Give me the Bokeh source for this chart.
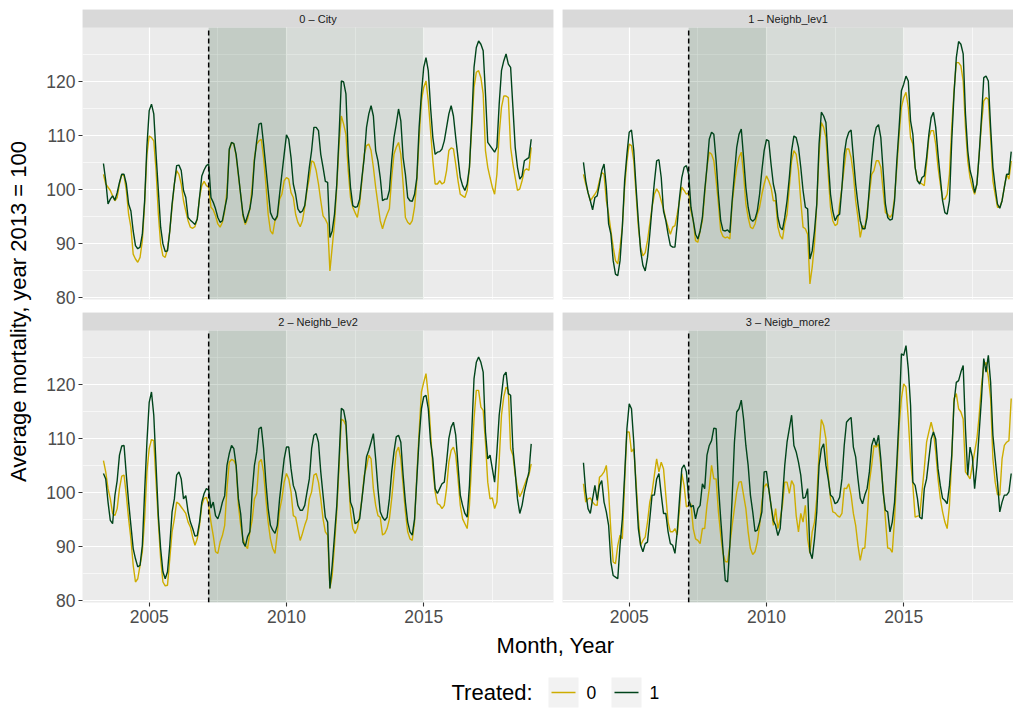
import numpy as np
import pandas as pd
from bokeh.plotting import figure
from bokeh.layouts import row, column
from bokeh.models import Range1d, FixedTicker
from bokeh.core.properties import value
from bokeh.embed import file_html
from bokeh.resources import INLINE

FONT = "Liberation Sans"

# ---------------- data ----------------
START_MONTH = "2003-05-01"
N_MONTHS = 188

panel_labels = ["0 \u2013 City", "1 \u2013 Neighb_lev1", "2 \u2013 Neighb_lev2", "3 \u2013 Neigb_more2"]
treated_levels = ["0", "1"]
series_colors = ["#CDAD00", "#00441B"]

city_0 = [102.8, 101.0, 100.4, 99.8, 98.8, 97.9, 98.5, 101.0,
          102.8, 102.5, 99.8, 95.4, 93.0, 88.0, 87.1, 86.5, 87.4, 90.5, 97.3, 106.5,
          109.9, 109.6, 109.0, 103.5, 95.4, 89.9, 87.7, 87.4, 89.0, 92.3, 96.7, 101.0,
          103.5, 102.8, 101.0, 97.9, 96.0, 94.2, 93.0, 92.8, 93.1, 94.5, 98.5, 100.7,
          101.5, 100.7, 100.4, 96.7, 96.2, 95.1, 93.6, 93.0, 93.9, 96.0, 99.8, 107.2,
          108.7, 108.4, 106.2, 102.5, 99.0, 95.0, 93.5, 94.5, 96.4, 100.4, 105.9, 108.4,
          109.0, 109.3, 105.9, 101.0, 95.4, 92.3, 91.7, 94.2, 94.8, 98.2, 99.1, 101.6,
          102.2, 101.9, 99.4, 98.5, 95.4, 93.9, 93.1, 94.2, 96.7, 99.8, 102.2, 105.3,
          105.0, 103.5, 101.0, 97.9, 95.1, 94.5, 93.6, 84.9, 89.3, 93.6, 100.4, 108.4,
          113.6, 112.1, 110.2, 103.5, 98.5, 96.7, 95.7, 94.8, 97.3, 101.6, 106.5, 108.1,
          108.4, 107.2, 104.1, 100.4, 97.3, 94.2, 92.7, 94.2, 95.4, 96.4, 102.2, 106.5,
          107.8, 108.7, 106.5, 101.0, 94.8, 93.9, 93.5, 94.2, 96.7, 101.6, 109.6, 116.4,
          118.9, 120.1, 116.4, 110.9, 105.3, 101.0, 101.0, 101.6, 101.0, 101.3, 103.5, 107.2,
          107.7, 107.5, 104.7, 101.6, 99.1, 98.8, 98.5, 99.8, 104.1, 111.5, 118.9, 121.7,
          122.0, 120.7, 117.7, 107.2, 104.1, 102.2, 100.4, 99.1, 102.8, 110.2, 115.2, 117.3,
          117.3, 117.0, 107.8, 104.7, 102.2, 99.8, 100.1, 101.6, 103.5, 103.8, 103.5, 107.8]

city_1 = [104.8, 101.6, 97.3, 98.2, 98.8, 98.0, 99.4, 101.3,
          102.8, 102.8, 101.0, 97.3, 96.0, 92.3, 89.6, 89.0, 89.3, 91.7, 97.9, 108.0,
          114.6, 115.8, 114.0, 106.5, 99.8, 93.0, 89.9, 88.5, 88.6, 92.3, 97.3, 101.0,
          104.4, 104.5, 103.5, 99.8, 98.5, 94.8, 94.3, 93.9, 93.5, 94.5, 98.5, 102.5,
          103.6, 104.4, 104.7, 98.5, 97.6, 96.4, 94.8, 93.9, 94.2, 96.4, 98.5, 107.5,
          108.7, 108.5, 106.5, 102.8, 99.0, 95.4, 93.8, 95.1, 96.4, 99.1, 105.3, 109.0,
          112.1, 112.3, 108.4, 104.1, 99.8, 95.7, 94.7, 94.3, 95.1, 99.1, 102.8, 106.5,
          110.1, 109.3, 105.9, 101.0, 99.1, 96.4, 95.7, 96.0, 97.0, 100.4, 104.1, 107.2,
          111.5, 111.5, 110.9, 106.5, 104.1, 101.5, 101.3, 91.1, 92.3, 95.4, 101.0, 110.0,
          120.1, 119.9, 117.7, 106.5, 100.4, 97.0, 96.7, 96.8, 98.2, 102.2, 105.9, 111.5,
          114.0, 115.5, 113.6, 107.2, 105.3, 102.2, 97.9, 98.2, 98.2, 99.8, 105.3, 109.6,
          112.1, 114.9, 112.7, 105.9, 102.8, 98.5, 97.9, 97.8, 99.1, 102.2, 111.5, 117.7,
          122.6, 124.4, 122.0, 115.2, 109.6, 106.5, 106.9, 107.0, 107.5, 109.0, 111.5, 114.0,
          115.5, 113.6, 109.6, 105.9, 102.2, 100.7, 99.8, 101.0, 104.1, 112.7, 122.6, 126.3,
          127.5, 126.9, 125.7, 117.7, 108.7, 108.1, 107.5, 106.9, 107.8, 115.8, 122.0, 123.8,
          125.1, 123.2, 122.6, 115.2, 107.8, 104.1, 101.9, 102.5, 105.3, 105.6, 105.9, 109.3]

lev1_0 = [102.8, 101.0, 99.4, 97.9, 98.5, 99.1, 99.8, 101.6,
          103.1, 102.8, 97.9, 95.4, 92.3, 89.3, 86.8, 86.2, 89.3, 93.0, 100.4, 105.3,
          108.4, 108.1, 105.3, 99.1, 93.0, 89.3, 87.7, 88.3, 90.5, 93.6, 96.7, 99.1,
          100.1, 99.4, 97.9, 96.4, 94.5, 93.0, 91.7, 93.0, 93.3, 95.4, 97.9, 100.4,
          99.8, 99.1, 99.4, 96.0, 94.2, 90.5, 90.2, 92.3, 94.2, 99.1, 104.1, 106.9,
          106.5, 105.3, 101.6, 97.3, 92.3, 91.3, 91.0, 91.2, 90.8, 97.3, 101.0, 104.1,
          105.9, 106.9, 102.8, 97.3, 94.8, 93.0, 92.7, 93.6, 95.4, 96.7, 99.1, 101.0,
          102.5, 101.6, 100.4, 97.9, 97.9, 93.0, 91.4, 90.8, 93.6, 95.4, 100.4, 105.3,
          107.2, 106.5, 103.5, 97.9, 93.0, 92.7, 91.7, 82.5, 85.6, 89.9, 97.3, 106.5,
          112.4, 111.5, 109.6, 102.8, 96.7, 94.2, 93.3, 93.6, 97.3, 100.4, 104.1, 107.5,
          107.5, 105.9, 102.8, 97.9, 94.8, 91.1, 93.3, 92.7, 96.0, 99.1, 102.8, 103.5,
          105.3, 105.3, 104.1, 99.8, 95.7, 95.4, 94.8, 95.4, 98.5, 104.1, 110.2, 115.2,
          117.0, 118.0, 115.2, 109.6, 108.4, 104.1, 101.6, 101.3, 101.0, 100.7, 104.7, 109.6,
          110.9, 110.9, 108.4, 104.1, 101.0, 98.2, 98.2, 99.1, 102.8, 111.5, 118.3, 123.5,
          123.5, 122.9, 120.1, 111.5, 105.3, 102.2, 100.4, 99.1, 101.0, 106.5, 112.1, 116.4,
          117.0, 116.7, 109.6, 101.6, 99.1, 96.7, 96.7, 97.9, 100.4, 102.8, 101.9, 105.3]

lev1_1 = [105.0, 101.6, 99.4, 97.9, 96.2, 98.5, 98.8, 101.0,
          103.5, 104.7, 100.4, 93.6, 91.7, 86.8, 84.3, 84.0, 86.8, 93.0, 101.6, 106.5,
          110.6, 111.0, 107.2, 100.4, 94.2, 88.6, 85.9, 84.9, 87.4, 91.7, 96.7, 101.3,
          105.3, 105.5, 102.2, 96.0, 94.2, 91.7, 89.6, 89.3, 89.3, 93.6, 98.5, 102.2,
          104.1, 104.4, 102.8, 96.7, 94.2, 91.7, 90.8, 92.3, 94.8, 99.8, 104.1, 109.3,
          110.6, 110.2, 105.3, 99.1, 94.2, 92.4, 92.3, 92.5, 92.0, 97.9, 102.8, 107.8,
          110.2, 111.2, 105.9, 100.4, 96.7, 94.5, 94.1, 94.5, 96.0, 99.1, 103.5, 107.2,
          109.2, 109.0, 104.7, 101.0, 99.1, 94.8, 93.0, 92.5, 94.8, 97.9, 102.2, 107.2,
          109.9, 109.6, 107.8, 104.1, 99.8, 96.7, 96.4, 87.1, 88.6, 92.3, 97.3, 108.4,
          114.3, 113.6, 112.4, 105.3, 99.1, 96.0, 94.2, 95.1, 95.4, 100.4, 106.5, 109.3,
          110.6, 111.0, 105.9, 101.0, 97.3, 94.2, 92.7, 92.7, 94.8, 100.4, 105.3, 109.6,
          111.5, 112.0, 109.6, 103.5, 97.3, 94.8, 94.3, 94.5, 97.9, 105.3, 111.5, 118.3,
          119.5, 121.0, 120.1, 112.7, 110.2, 104.1, 101.6, 101.0, 102.2, 102.5, 105.9, 110.2,
          113.3, 114.3, 111.5, 106.5, 102.2, 97.9, 95.7, 95.4, 97.9, 109.0, 117.7, 124.4,
          127.4, 126.9, 125.1, 114.0, 107.2, 103.5, 101.9, 99.4, 101.0, 106.5, 113.3, 120.7,
          121.0, 120.1, 111.5, 104.1, 100.4, 97.3, 96.5, 97.9, 100.4, 102.8, 102.8, 107.0]

lev2_0 = [105.9, 103.8, 100.7, 98.8, 96.1, 95.7, 97.0, 100.7,
          103.0, 103.2, 99.5, 95.1, 91.4, 86.5, 83.4, 84.0, 86.5, 89.0, 95.1, 103.8,
          108.1, 109.8, 109.6, 101.9, 94.5, 87.7, 83.4, 82.7, 82.8, 87.7, 92.7, 95.1,
          98.2, 97.9, 97.3, 96.7, 96.1, 94.5, 93.6, 91.7, 90.2, 91.4, 93.9, 97.6,
          98.9, 99.1, 97.6, 94.5, 92.0, 89.0, 88.7, 90.8, 92.0, 93.9, 100.7, 105.6,
          106.1, 105.9, 105.0, 97.6, 93.9, 91.4, 90.2, 89.6, 92.7, 94.8, 98.8, 99.8,
          105.6, 106.1, 103.8, 98.8, 94.5, 91.4, 89.6, 88.7, 92.4, 96.7, 98.8, 101.9,
          103.5, 102.5, 100.1, 95.7, 95.4, 93.3, 91.1, 92.4, 93.9, 95.1, 98.8, 100.1,
          103.2, 103.5, 101.9, 98.8, 95.1, 92.7, 92.1, 82.2, 84.6, 90.2, 96.4, 104.7,
          113.6, 113.3, 112.4, 103.8, 96.4, 93.3, 92.4, 93.3, 95.7, 98.8, 103.2, 104.7,
          106.9, 106.2, 100.7, 97.6, 95.7, 95.4, 92.1, 92.4, 93.3, 95.1, 98.8, 103.2,
          107.5, 108.4, 106.2, 101.3, 96.4, 92.7, 91.4, 91.1, 94.5, 103.2, 111.2, 118.6,
          120.4, 122.0, 118.0, 111.2, 104.4, 100.1, 97.9, 97.7, 97.0, 97.6, 100.7, 105.6,
          107.8, 108.4, 106.9, 102.5, 97.6, 95.1, 94.2, 93.3, 97.6, 105.9, 113.6, 118.9,
          118.9, 115.8, 115.2, 109.3, 101.9, 98.8, 99.0, 97.0, 98.2, 105.9, 114.3, 117.7,
          119.5, 118.9, 108.1, 106.9, 103.2, 100.7, 99.2, 100.1, 101.3, 102.5, 103.2, 105.3]

lev2_1 = [103.5, 102.5, 98.2, 94.8, 94.2, 99.4, 102.2, 106.9,
          108.6, 108.7, 103.2, 98.2, 93.9, 89.6, 87.7, 86.2, 86.5, 90.2, 100.1, 109.3,
          116.7, 118.6, 114.3, 105.0, 95.7, 89.6, 85.3, 84.0, 85.3, 90.2, 96.4, 98.8,
          103.2, 103.8, 102.5, 98.8, 99.4, 96.4, 94.5, 93.3, 91.9, 92.0, 94.5, 98.2,
          99.8, 100.7, 100.4, 97.1, 98.2, 95.7, 95.1, 96.4, 98.2, 99.4, 105.0, 107.2,
          108.7, 108.1, 105.0, 98.8, 96.0, 90.8, 90.0, 91.8, 92.7, 100.1, 105.0, 107.5,
          111.8, 112.1, 108.1, 101.9, 97.0, 93.9, 93.0, 92.4, 93.9, 98.8, 102.5, 106.2,
          108.4, 108.4, 104.4, 101.3, 100.1, 97.6, 96.7, 96.7, 97.6, 100.1, 102.5, 108.1,
          110.6, 110.9, 109.3, 103.8, 99.5, 95.4, 94.5, 82.2, 86.5, 92.0, 97.6, 106.2,
          115.6, 115.2, 113.0, 105.0, 98.2, 97.0, 94.2, 94.5, 95.1, 98.8, 102.5, 106.6,
          107.8, 109.3, 110.9, 106.2, 100.7, 96.4, 95.4, 94.8, 95.4, 98.8, 103.8, 107.5,
          110.3, 110.6, 109.3, 103.2, 98.2, 94.5, 92.7, 92.1, 95.1, 102.5, 110.0, 115.5,
          117.7, 118.0, 115.5, 109.3, 106.2, 100.7, 99.8, 100.7, 101.6, 101.9, 105.6, 110.0,
          112.1, 113.0, 110.6, 105.0, 99.5, 97.6, 96.1, 95.4, 101.3, 111.2, 121.1, 124.1,
          125.1, 124.1, 122.3, 111.2, 106.2, 106.9, 104.4, 101.9, 107.5, 114.3, 118.0, 121.7,
          122.3, 118.3, 118.0, 108.1, 103.8, 98.8, 96.1, 97.6, 100.1, 101.9, 103.8, 109.0]

more2_0 = [101.6, 98.2, 98.8, 99.0, 98.2, 97.7, 97.6, 102.8,
           103.2, 103.8, 105.0, 100.1, 92.7, 87.1, 86.8, 90.2, 92.1, 91.4, 101.9, 111.2,
           111.2, 107.5, 108.1, 101.9, 95.1, 90.2, 91.1, 91.7, 94.5, 98.2, 100.1, 103.2,
           106.2, 103.8, 105.6, 104.4, 99.5, 94.5, 92.7, 92.7, 93.3, 92.1, 97.0, 103.5,
           101.3, 97.3, 97.6, 97.9, 93.3, 91.4, 91.1, 90.5, 93.3, 93.3, 97.6, 100.7,
           105.0, 102.5, 102.5, 96.4, 92.1, 88.7, 87.2, 87.1, 90.2, 93.9, 97.0, 100.1,
           101.9, 102.0, 99.5, 97.0, 92.7, 89.6, 88.5, 89.0, 90.8, 93.9, 98.2, 101.0,
           101.6, 100.7, 97.6, 93.9, 97.0, 93.3, 95.1, 97.6, 101.9, 101.9, 99.8, 102.2,
           101.3, 95.7, 92.7, 96.1, 94.5, 97.6, 91.4, 88.7, 92.7, 94.5, 98.9, 107.5,
           113.5, 112.4, 109.9, 103.2, 98.9, 96.4, 96.2, 95.7, 95.4, 96.1, 100.8, 100.7,
           101.6, 99.5, 96.1, 93.9, 90.2, 87.4, 89.6, 89.7, 95.1, 101.9, 105.0, 108.7,
           108.4, 109.0, 105.0, 100.7, 95.1, 89.7, 89.6, 88.9, 95.1, 103.8, 112.4, 117.4,
           120.1, 119.5, 113.6, 106.2, 101.3, 95.4, 95.6, 95.7, 100.1, 104.4, 109.3, 111.2,
           113.0, 111.2, 107.5, 102.5, 98.9, 96.4, 94.5, 93.3, 97.6, 106.2, 117.4, 118.3,
           115.5, 114.9, 113.6, 103.8, 103.2, 102.5, 105.0, 107.5, 109.9, 114.3, 119.8, 123.5,
           124.1, 121.4, 117.4, 106.2, 101.9, 99.6, 99.5, 106.2, 108.7, 109.3, 109.6, 117.4]

more2_1 = [105.5, 100.1, 97.0, 96.1, 98.8, 101.3, 98.5, 101.3,
           102.2, 98.2, 96.4, 93.9, 87.1, 84.6, 84.3, 84.0, 90.2, 95.1, 103.2, 111.8,
           116.4, 115.5, 109.3, 100.7, 93.3, 90.2, 89.0, 90.5, 90.8, 95.1, 99.5, 99.5,
           102.5, 103.5, 99.6, 96.1, 96.1, 92.7, 90.5, 90.2, 88.7, 92.7, 98.8, 104.4,
           105.1, 103.8, 98.8, 97.3, 97.6, 95.1, 97.0, 97.6, 101.6, 100.7, 106.9, 108.7,
           109.6, 111.9, 111.8, 101.3, 95.1, 89.3, 83.7, 83.4, 90.2, 98.9, 109.3, 114.9,
           115.5, 117.1, 113.6, 108.7, 105.0, 99.5, 96.4, 92.8, 93.0, 94.5, 96.4, 103.8,
           103.9, 100.7, 97.6, 94.8, 93.9, 92.0, 93.3, 98.9, 105.0, 109.3, 111.8, 114.3,
           108.7, 107.5, 105.6, 103.2, 98.9, 99.1, 100.7, 89.0, 87.7, 91.4, 96.4, 105.0,
           108.1, 109.0, 105.0, 102.5, 99.5, 99.1, 97.9, 98.2, 99.1, 102.5, 108.7, 113.0,
           113.5, 113.9, 108.4, 106.6, 102.5, 98.9, 97.9, 99.5, 100.7, 103.8, 108.7, 110.1,
           108.7, 110.6, 106.2, 100.1, 96.7, 96.4, 92.7, 94.5, 98.2, 105.6, 114.3, 125.7,
           125.4, 127.2, 122.9, 116.1, 101.9, 101.3, 98.9, 95.4, 95.1, 100.7, 102.5, 106.2,
           109.9, 111.2, 109.9, 104.4, 101.3, 98.9, 98.5, 97.9, 101.3, 106.9, 116.7, 120.4,
           120.7, 122.3, 123.5, 111.8, 103.2, 108.4, 106.6, 100.7, 105.0, 111.2, 117.4, 124.8,
           122.3, 125.4, 120.4, 110.6, 106.2, 101.9, 96.4, 98.2, 99.5, 99.5, 100.1, 103.5]

panel_series = [(city_0, city_1), (lev1_0, lev1_1), (lev2_0, lev2_1), (more2_0, more2_1)]

x_major = [2005, 2010, 2015]
x_minor = [2007.5, 2012.5, 2017.5]
y_major = [80, 90, 100, 110, 120]
y_minor = [85, 95, 105, 115, 125]

policy_start = 2007 + 2 / 12.0   # dashed line / start of shading
phase1_end = 2010.0
phase2_end = 2015.0

for a, b in panel_series:
    assert len(a) == N_MONTHS and len(b) == N_MONTHS, (len(a), len(b))

dates = pd.date_range(START_MONTH, periods=N_MONTHS, freq="MS")
xdec = np.asarray(dates.year + (dates.month - 1) / 12.0, dtype=float)

# ---------------- geometry ----------------
X_LO = 2002.57
PX_PER_YEAR = 27.45
Y_LO, Y_HI = 79.6, 130.0
PANEL_PX = 272
STRIP_PX = 18
Y_TOP = Y_HI + STRIP_PX * (Y_HI - Y_LO) / PANEL_PX
LEFT_W, RIGHT_W = 471, 451

GRID_KW = dict(grid_line_color="white", grid_line_width=1.2,
               minor_grid_line_color="white", minor_grid_line_width=0.6)


def style_axis(ax):
    ax.axis_line_color = None
    ax.major_tick_line_color = "#333333"
    ax.major_tick_line_width = 1.1
    ax.major_tick_out = 4
    ax.major_tick_in = 0
    ax.minor_tick_line_color = None
    ax.major_label_text_font = FONT
    ax.major_label_text_font_size = "17.5px"
    ax.major_label_text_color = "#4D4D4D"
    ax.major_label_standoff = 3


def make_panel(k, is_left, is_bottom):
    fw = LEFT_W if is_left else RIGHT_W
    x_hi = X_LO + fw / PX_PER_YEAR
    p = figure(frame_width=fw, frame_height=PANEL_PX + STRIP_PX,
               x_range=Range1d(X_LO, x_hi), y_range=Range1d(Y_LO, Y_TOP),
               x_axis_location="below" if is_bottom else None,
               y_axis_location="left" if is_left else None,
               output_backend="svg", toolbar_location=None,
               min_border_left=44 if is_left else 0,
               min_border_right=9 if is_left else 0,
               min_border_top=9 if not is_bottom else 0,
               min_border_bottom=30 if is_bottom else 13,
               background_fill_color="#EBEBEB", border_fill_color="white",
               outline_line_color=None)
    p.xgrid.ticker = FixedTicker(ticks=x_major, minor_ticks=x_minor)
    p.ygrid.ticker = FixedTicker(ticks=y_major, minor_ticks=y_minor)
    for g in (p.xgrid, p.ygrid):
        for kk, vv in GRID_KW.items():
            setattr(g, kk, vv)
    if is_bottom:
        p.xaxis.ticker = FixedTicker(ticks=x_major)
        style_axis(p.xaxis[0])
    if is_left:
        p.yaxis.ticker = FixedTicker(ticks=y_major)
        style_axis(p.yaxis[0])

    # shaded policy periods (two overlapping translucent rectangles)
    p.quad(left=[policy_start, policy_start], right=[phase2_end, phase1_end],
           bottom=[Y_LO, Y_LO], top=[Y_HI, Y_HI],
           fill_color="#1E4D2B", fill_alpha=0.1, line_color=None)

    ys0, ys1 = panel_series[k]
    p.line(xdec, ys0, line_color=series_colors[0], line_width=1.4)
    p.line(xdec, ys1, line_color=series_colors[1], line_width=1.4)

    p.segment(x0=[policy_start], y0=[Y_LO], x1=[policy_start], y1=[Y_HI],
              line_color="black", line_width=1.5, line_dash="5 3")

    # facet strip
    p.quad(left=[X_LO], right=[x_hi], bottom=[Y_HI], top=[Y_TOP],
           fill_color="#D9D9D9", line_color=None)
    p.text(x=[(X_LO + x_hi) / 2], y=[(Y_HI + Y_TOP) / 2], text=[panel_labels[k]],
           text_font=value(FONT), text_font_size="11px", text_color="#1A1A1A",
           text_align="center", text_baseline="middle")
    return p


tl = make_panel(0, True, False)
tr = make_panel(1, False, False)
bl = make_panel(2, True, True)
br = make_panel(3, False, True)

# ---------------- y axis title ----------------
YF_W, YF_H = 38, 632
yfig = figure(frame_width=YF_W, frame_height=YF_H, x_range=Range1d(0, YF_W), y_range=Range1d(0, YF_H),
              x_axis_location=None, y_axis_location=None, output_backend="svg", toolbar_location=None,
              min_border=0, outline_line_color=None, background_fill_color="white", border_fill_color="white")
yfig.grid.visible = False
yfig.text(x=[18], y=[YF_H - 311], text=["Average mortality, year 2013 = 100"], angle=np.pi / 2,
          text_font=value(FONT), text_font_size="22px", text_color="black",
          text_align="center", text_baseline="middle")

# ---------------- x title + legend ----------------
BF_W, BF_H = 1013, 76
bfig = figure(frame_width=BF_W, frame_height=BF_H, x_range=Range1d(0, BF_W), y_range=Range1d(0, BF_H),
              x_axis_location=None, y_axis_location=None, output_backend="svg", toolbar_location=None,
              min_border=0, outline_line_color=None, background_fill_color="white", border_fill_color="white")
bfig.grid.visible = False
bfig.text(x=[555], y=[BF_H - 13], text=["Month, Year"], text_font=value(FONT), text_font_size="22px",
          text_color="black", text_align="center", text_baseline="middle")

leg_y = BF_H - 60
bfig.text(x=[451], y=[leg_y], text=["Treated:"], text_font=value(FONT), text_font_size="22px",
          text_color="black", text_align="left", text_baseline="middle")
key_centers = [563, 626]
label_lefts = [586, 649]
for i, lev in enumerate(treated_levels):
    cx = key_centers[i]
    bfig.rect(x=[cx], y=[leg_y], width=30, height=30, fill_color="#F2F2F2", line_color=None)
    bfig.segment(x0=[cx - 12], y0=[leg_y], x1=[cx + 12], y1=[leg_y],
                 line_color=series_colors[i], line_width=1.4)
    bfig.text(x=[label_lefts[i]], y=[leg_y], text=[lev], text_font=value(FONT), text_font_size="17.5px",
              text_color="black", text_align="left", text_baseline="middle")

layout = column(row(yfig, column(tl, bl), column(tr, br)), bfig)

open("out.html", "w").write(file_html(layout, INLINE))
